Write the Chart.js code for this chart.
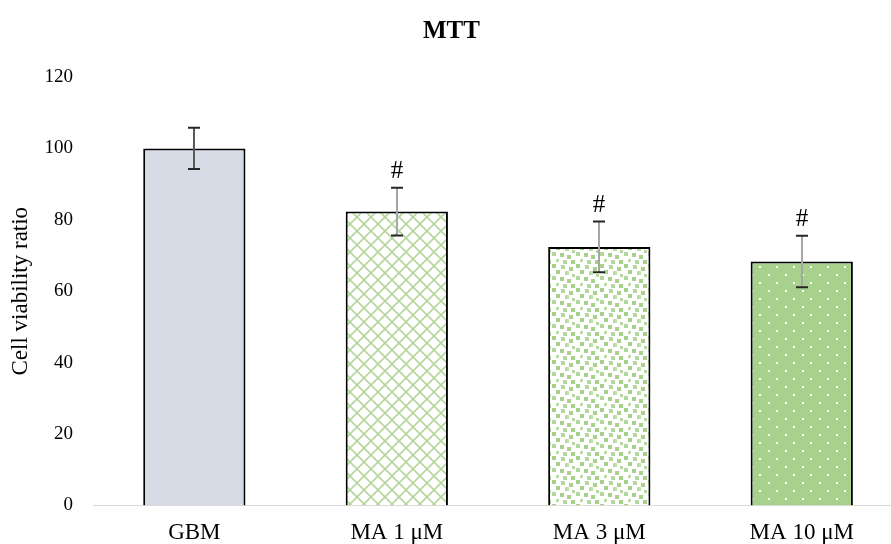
<!DOCTYPE html>
<html>
<head>
<meta charset="utf-8">
<script src="https://cdn.jsdelivr.net/npm/chart.js@4/dist/chart.umd.min.js"></script>
<style>
  html, body { margin: 0; padding: 0; background: #fff; overflow: hidden; width: 891px; height: 544px; }
  #wrap { width: 905px; height: 561px; }
</style>
</head>
<body>
<div id="wrap"><canvas id="c" width="905" height="561"></canvas></div>
<script>
// ---- data ----
const categories = ["GBM", "MA 1 \u03bcM", "MA 3 \u03bcM", "MA 10 \u03bcM"];
const viability = [100, 82.3, 72.4, 68.3];
const errors = [5.8, 6.7, 7.1, 7.2];
const significance = ["", "#", "#", "#"];
const yTicks = [0, 20, 40, 60, 80, 100, 120];

// ---- patterns ----
const GREEN = '#a9d18e';
function makeTile(w, h, draw) {
  const c = document.createElement('canvas');
  c.width = w; c.height = h;
  const g = c.getContext('2d');
  draw(g);
  return document.getElementById('c').getContext('2d').createPattern(c, 'repeat');
}
const diamondPat = makeTile(14, 14, g => {
  g.fillStyle = '#fff'; g.fillRect(0, 0, 14, 14);
  g.strokeStyle = '#b4d69c'; g.lineWidth = 1.6;
  g.beginPath();
  g.moveTo(0, 0); g.lineTo(14, 14);
  g.moveTo(14, 0); g.lineTo(0, 14);
  g.stroke();
});
const confettiPat = makeTile(24, 24, g => {
  g.fillStyle = '#fff'; g.fillRect(0, 0, 24, 24);
  const sq = [[0,0,4,'#a9d18e'],[9,1,4,'#b5d89e'],[17,3,4,'#a9d18e'],[4,6,4,'#a9d18e'],
              [13,7,4,'#bcdca6'],[20,10,3,'#b5d89e'],[0,12,4,'#b5d89e'],[8,13,4,'#a9d18e'],
              [15,15,4,'#a9d18e'],[4,19,3,'#bcdca6'],[11,20,4,'#b5d89e'],[19,20,4,'#a9d18e']];
  sq.forEach(([x,y,s,col]) => { g.fillStyle = col; g.fillRect(x, y, s, s); });
});
const dotsPat = makeTile(17, 16, g => {
  g.fillStyle = GREEN; g.fillRect(0, 0, 17, 16);
  g.fillStyle = '#ffffff';
  g.fillRect(3, 2, 2, 2);
  g.fillRect(11, 10, 2, 2);
});
const fills = ['#d6dce5', diamondPat, confettiPat, dotsPat];
const errLineColors = ['#595959', '#a6a6a6', '#a6a6a6', '#a6a6a6'];

// ---- error bars + significance marks ----
const errorBarPlugin = {
  id: 'errorBars',
  afterDatasetsDraw(chart) {
    const ctx = chart.ctx;
    const meta = chart.getDatasetMeta(0);
    const y = chart.scales.y;
    ctx.save();
    meta.data.forEach((bar, i) => {
      const x = Math.round(bar.x);
      const top = y.getPixelForValue(viability[i] + errors[i]);
      const bot = y.getPixelForValue(viability[i] - errors[i]);
      ctx.strokeStyle = errLineColors[i];
      ctx.lineWidth = 2;
      ctx.beginPath(); ctx.moveTo(x, top); ctx.lineTo(x, bot); ctx.stroke();
      ctx.strokeStyle = '#262626';
      ctx.beginPath();
      ctx.moveTo(x - 6, top); ctx.lineTo(x + 6, top);
      ctx.moveTo(x - 6, bot); ctx.lineTo(x + 6, bot);
      ctx.stroke();
      if (significance[i]) {
        ctx.fillStyle = '#000';
        ctx.font = '25px "Liberation Serif"';
        ctx.textAlign = 'center';
        ctx.textBaseline = 'middle';
        ctx.fillText(significance[i], x, top - 16);
      }
    });
    ctx.restore();
  }
};

new Chart(document.getElementById('c'), {
  type: 'bar',
  data: {
    labels: categories,
    datasets: [{
      data: viability,
      backgroundColor: fills,
      borderColor: '#000',
      borderWidth: 2,
      borderSkipped: 'bottom',
      categoryPercentage: 1,
      barPercentage: 0.505
    }]
  },
  options: {
    responsive: false,
    animation: false,
    layout: { padding: { left: 0, right: 2, top: 0, bottom: 0 } },
    plugins: {
      legend: { display: false },
      tooltip: { enabled: false },
      title: {
        display: true,
        text: 'MTT',
        color: '#000',
        font: { family: '"Liberation Serif"', size: 25, weight: 'bold' },
        padding: { top: 17, bottom: 30 }
      }
    },
    scales: {
      x: {
        grid: { display: false, drawTicks: false },
        border: { display: true, color: '#d9d9d9', width: 1 },
        ticks: { color: '#000', padding: 14, font: { family: '"Liberation Serif"', size: 23 } }
      },
      y: {
        min: 0, max: 120,
        afterBuildTicks(axis) { axis.ticks = yTicks.map(v => ({ value: v })); },
        grid: { display: false, drawTicks: false },
        border: { display: false },
        ticks: { color: '#000', padding: 20, font: { family: '"Liberation Serif"', size: 19 } },
        title: {
          display: true,
          text: 'Cell viability ratio',
          color: '#000',
          font: { family: '"Liberation Serif"', size: 23 },
          padding: { top: 7, bottom: -10 }
        }
      }
    }
  },
  plugins: [errorBarPlugin]
});
</script>
</body>
</html>
